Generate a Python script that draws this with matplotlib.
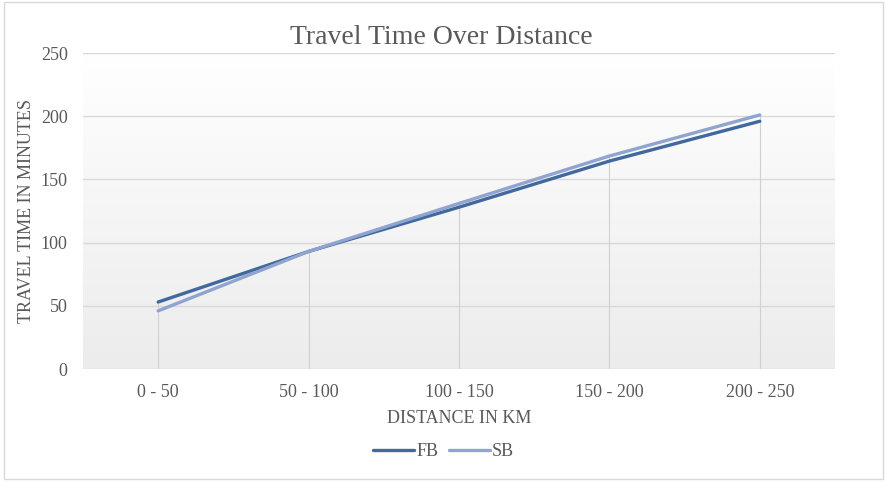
import numpy as np
import matplotlib.pyplot as plt
from matplotlib.patches import Rectangle

plt.rcParams['font.family'] = ['Liberation Serif', 'DejaVu Serif']

# data
categories = ["0 - 50", "50 - 100", "100 - 150", "150 - 200", "200 - 250"]
fb = [53, 93, 128, 164.5, 196]
sb = [46, 93, 131, 168.5, 201]

fb_color = "#41699e"
sb_color = "#8fa5cf"
text_color = "#595959"

fig = plt.figure(figsize=(8.87, 4.82), dpi=100)
ax = fig.add_axes([83 / 887, 1 - 369 / 482, 752 / 887, 316 / 482])

# gradient plot area: white at top to light gray at bottom
grad = np.linspace(1, 0, 256).reshape(-1, 1)
ax.imshow(grad, aspect="auto", cmap=plt.cm.colors.LinearSegmentedColormap.from_list(
    "bg", ["#ececec", "#ffffff"]), extent=[-0.5, 4.5, 0, 250], zorder=0,
    vmin=0, vmax=1)

x = np.arange(len(categories))

# horizontal gridlines
for yv in range(0, 251, 50):
    ax.axhline(yv, color="#d9d9d9", lw=1, zorder=1)

# drop lines
for i in x:
    ax.plot([i, i], [0, max(fb[i], sb[i])], color="#d0d0d0", lw=0.8, zorder=1)

ax.plot(x, fb, color=fb_color, lw=2.4, label="FB", zorder=3, solid_capstyle="round")
ax.plot(x, sb, color=sb_color, lw=2.4, label="SB", zorder=3, solid_capstyle="round")

ax.set_xlim(-0.5, 4.5)
ax.set_ylim(0, 250)
ax.set_xticks(x)
ax.set_xticklabels(categories)
ax.set_yticks(range(0, 251, 50))
ax.tick_params(length=0, labelsize=13, colors=text_color, pad=11)
ax.tick_params(axis="y", pad=11)
for s in ax.spines.values():
    s.set_visible(False)

fig.text(0.497, 1 - 38 / 482, "Travel Time Over Distance", fontsize=20,
         color=text_color, ha="center", va="center")
ax.set_xlabel("DISTANCE IN KM", fontsize=13, color=text_color, labelpad=6)
ax.set_ylabel("TRAVEL TIME IN MINUTES", fontsize=13, color=text_color, labelpad=4)

leg = fig.legend(loc="center", bbox_to_anchor=(0.5, 1 - 452 / 482), ncol=2,
                 frameon=False, fontsize=13, handlelength=2.3, handletextpad=0.1,
                 columnspacing=0.6)
for t in leg.get_texts():
    t.set_color(text_color)

# outer border
fig.patches.append(Rectangle((0.004, 0.006), 0.992, 0.99, transform=fig.transFigure,
                             fill=False, edgecolor="#d9d9d9", lw=1))

fig.savefig("out.png", dpi=100)
